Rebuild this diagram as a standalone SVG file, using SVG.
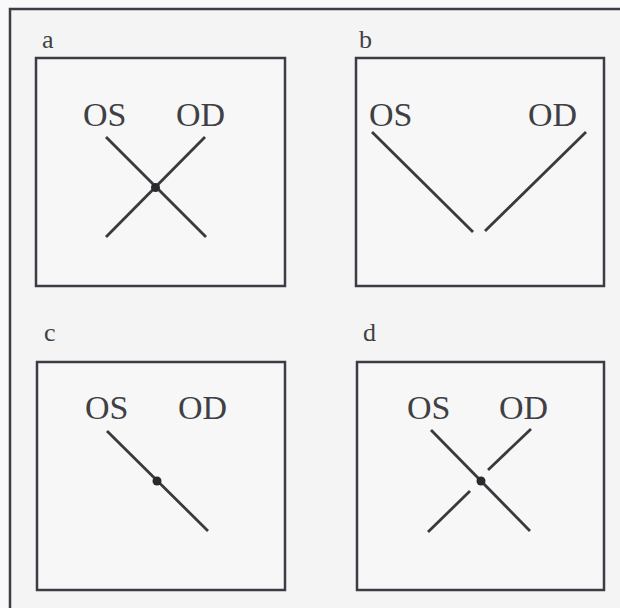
<svg xmlns="http://www.w3.org/2000/svg" width="620" height="608" viewBox="0 0 620 608">
<style>
.frame{fill:none;stroke:#3c3c44;stroke-width:2.5}
.box{fill:#f7f7f7;stroke:#3c3c44;stroke-width:2.5}
.ln{stroke:#3a3a3e;stroke-width:2.8;stroke-linecap:butt}
.dot{fill:#2a2a2e}
.lbl{font-family:"Liberation Serif","Times New Roman",serif;font-size:34px;fill:#404044}
.pl{font-family:"Liberation Serif","Times New Roman",serif;font-size:26px;fill:#404044}
</style>
<rect x="0" y="0" width="620" height="608" fill="#f9f9f9"/>
<rect x="10" y="9" width="620" height="620" fill="#f4f4f4"/>
<path class="frame" d="M10,612 L10,9 L622,9"/>
<g id="panel-a">
<text class="pl" x="42" y="48">a</text>
<rect class="box" x="36" y="58" width="249" height="228"/>
<text class="lbl" x="83" y="126">OS</text>
<text class="lbl" x="176" y="126">OD</text>
<line class="ln" x1="106" y1="137" x2="206" y2="237"/>
<line class="ln" x1="205" y1="137" x2="106" y2="237"/>
<circle class="dot" cx="155.5" cy="187.5" r="4.5"/>
</g>
<g id="panel-b">
<text class="pl" x="359" y="48">b</text>
<rect class="box" x="356" y="58" width="248" height="228"/>
<text class="lbl" x="369" y="126">OS</text>
<text class="lbl" x="528" y="126">OD</text>
<line class="ln" x1="372" y1="132" x2="473" y2="232"/>
<line class="ln" x1="586" y1="132" x2="485" y2="231"/>
</g>
<g id="panel-c">
<text class="pl" x="44" y="341">c</text>
<rect class="box" x="37" y="362" width="248" height="228"/>
<text class="lbl" x="85" y="419">OS</text>
<text class="lbl" x="178" y="419">OD</text>
<line class="ln" x1="107" y1="431" x2="208" y2="531"/>
<circle class="dot" cx="157" cy="481" r="4.5"/>
</g>
<g id="panel-d">
<text class="pl" x="363" y="341">d</text>
<rect class="box" x="357" y="362" width="247" height="228"/>
<text class="lbl" x="407" y="419">OS</text>
<text class="lbl" x="499" y="419">OD</text>
<line class="ln" x1="431" y1="430" x2="530" y2="531"/>
<line class="ln" x1="531" y1="429" x2="488" y2="470"/>
<line class="ln" x1="470" y1="491" x2="428" y2="532"/>
<circle class="dot" cx="481" cy="481" r="4.5"/>
</g>
</svg>
